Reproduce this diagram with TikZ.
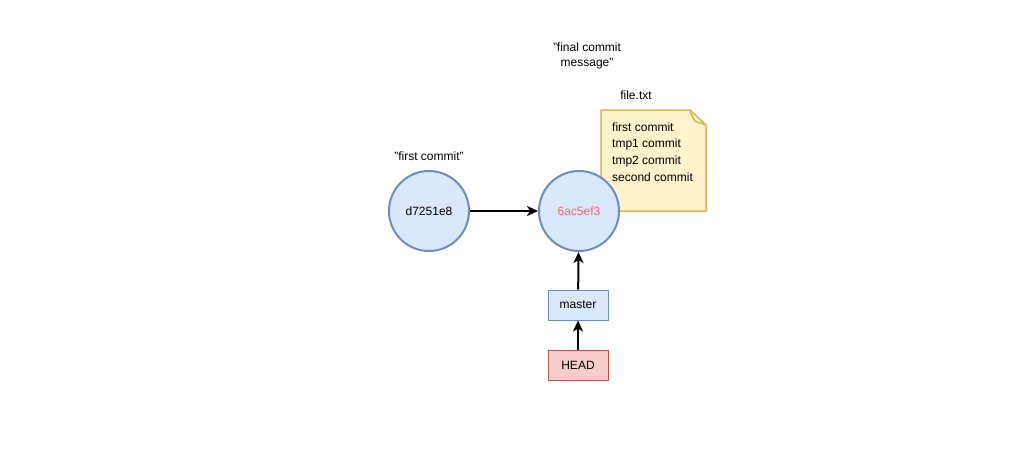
\documentclass[tikz,border=0pt]{standalone}
\usepackage{fontspec}
\setmainfont{Liberation Sans}
\usetikzlibrary{arrows.meta}
\definecolor{commitfill}{HTML}{DAE8FC}
\definecolor{commitline}{HTML}{6C8EBF}
\definecolor{headfill}{HTML}{F8CECC}
\definecolor{headline}{HTML}{B85450}
\definecolor{notefill}{HTML}{FFF2CC}
\definecolor{noteline}{HTML}{D6B656}
\definecolor{hashred}{HTML}{FF6666}
\tikzset{
  commit/.style={circle,draw=commitline,fill=commitfill,line width=2pt,minimum size=80pt,inner sep=0pt},
  ref/.style={rectangle,draw=#1line,fill=#1fill,line width=1pt,minimum width=60pt,minimum height=30pt,inner sep=0pt},
  link/.style={-{Stealth[length=11pt,width=10pt,inset=3pt]},line width=2pt},
  lbl/.style={inner sep=0pt,align=center}
}
\begin{document}
\begin{tikzpicture}[x=1pt,y=-1pt,font=\fontsize{12}{14}\selectfont]
                      \useasboundingbox (0,0) rectangle (1010,471);
                      % file.txt note
                      \draw[draw=noteline,fill=notefill,line width=1.5pt] (601,110) -- (690,110) -- (706,125) -- (706,211) -- (601,211) -- cycle;
                      \draw[draw=noteline,line width=1.5pt,line join=round] (690,110) .. controls (692,117) and (694,121) .. (697,122) -- (706,125);
                      \node[lbl,anchor=west,align=left,font=\fontsize{12}{16.7}\selectfont](note)at(612,152){first commit\\tmp1 commit\\tmp2 commit\\second commit};
                      \node[lbl](file)at(636,95){file.txt};
                      % commits
                      \node[commit](first)at(429,211){d7251e8};
                      \node[commit,text=hashred](final)at(579,211){6ac5ef3};
                      \node[lbl](firstmsg)at(429,156){"first commit"};
                      \node[lbl,font=\fontsize{12}{15}\selectfont](finalmsg)at(587,56){"final commit\\message"};
                      % refs
                      \node[ref=commit](master)at(578,305){master};
                      \node[ref=head](head)at(578,365){HEAD};
                      \draw[link] (first) -- (final);
                      \draw[link] (master) -- (final);
                      \draw[link] (head) -- (master);
                  \end{tikzpicture}
\end{document}
